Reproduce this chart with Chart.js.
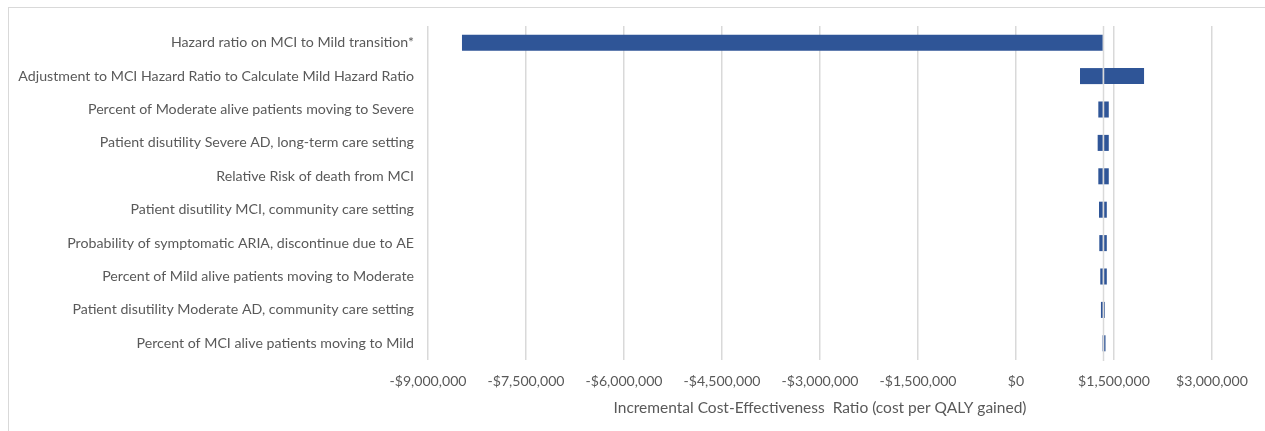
<!DOCTYPE html>
<html>
<head>
<meta charset="utf-8">
<script src="https://cdn.jsdelivr.net/npm/chart.js@4/dist/chart.umd.min.js"></script>
<style>
  html, body { margin: 0; padding: 0; background: #fff; }
  #frame {
    position: absolute; left: 8px; top: 7px; width: 1300px; height: 460px;
    border: 1px solid #d9d9d9; box-sizing: border-box;
  }
  #wrap { position: absolute; left: 0; top: 0; width: 1265px; height: 431px; }
</style>
</head>
<body>
<div id="frame"></div>
<div id="wrap"><canvas id="tornado" width="1265" height="431"></canvas></div>
<script>
// One-way sensitivity analysis: ICER range for each parameter
const parameters = [
  "Hazard ratio on MCI to Mild transition*",
  "Adjustment to MCI Hazard Ratio to Calculate Mild Hazard Ratio",
  "Percent of Moderate alive patients moving to Severe",
  "Patient disutility Severe AD, long-term care setting",
  "Relative Risk of death from MCI",
  "Patient disutility MCI, community care setting",
  "Probability of symptomatic ARIA, discontinue due to AE",
  "Percent of Mild alive patients moving to Moderate",
  "Patient disutility Moderate AD, community care setting",
  "Percent of MCI alive patients moving to Mild"
];

// Base-case ICER (cost per QALY gained)
const baseIcer = 1327000;

// ICER at the low and high ends of each parameter's range
const lowIcer  = [-8480000,  980000, 1260000, 1250000, 1260000, 1270000, 1275000, 1290000, 1300000, 1330000];
const highIcer = [ 1330000, 1960000, 1420000, 1420000, 1420000, 1390000, 1390000, 1390000, 1360000, 1370000];

// Axis ticks
const axisMin = -9000000;
const axisMax = 3000000;
const axisStep = 1500000;

const barBlue = "#2F5597";
const gridGrey = "#d9d9d9";
const textGrey = "#595959";
const fontFamily = "Lato, 'Open Sans', sans-serif";

const money = v => (v < 0 ? "-$" : "$") + Math.abs(v).toLocaleString("en-US");

// Vertical line at the base-case ICER, drawn over the bars
const baseLine = {
  id: "baseLine",
  afterDatasetsDraw(chart) {
    const { ctx, chartArea, scales } = chart;
    const x = Math.round(scales.x.getPixelForValue(baseIcer)) + 0.5;
    ctx.save();
    ctx.strokeStyle = gridGrey;
    ctx.lineWidth = 1.5;
    ctx.beginPath();
    ctx.moveTo(x, chartArea.top);
    ctx.lineTo(x, chartArea.bottom + 1);
    ctx.stroke();
    ctx.restore();
  }
};

new Chart(document.getElementById("tornado"), {
  type: "bar",
  data: {
    labels: parameters,
    datasets: [
      {
        label: "Low",
        data: lowIcer.map(v => [baseIcer, v]),
        backgroundColor: barBlue,
        borderWidth: 0
      },
      {
        label: "High",
        data: highIcer.map(v => [baseIcer, v]),
        backgroundColor: barBlue,
        borderWidth: 0
      }
    ]
  },
  options: {
    indexAxis: "y",
    responsive: false,
    animation: false,
    devicePixelRatio: 1,
    layout: { padding: { top: 26, right: 53, bottom: 0, left: 0 } },
    datasets: { bar: { grouped: false, barPercentage: 0.48, categoryPercentage: 1 } },
    plugins: { legend: { display: false }, tooltip: { enabled: false } },
    scales: {
      x: {
        type: "linear",
        min: axisMin,
        max: axisMax,
        afterBuildTicks(scale) {
          const t = [];
          for (let v = axisMin; v <= axisMax; v += axisStep) t.push({ value: v });
          scale.ticks = t;
        },
        afterFit(scale) { scale.height = 71; },
        grid: { color: gridGrey, lineWidth: 1.5, drawTicks: false },
        border: { display: false },
        ticks: {
          color: textGrey,
          font: { family: fontFamily, size: 14.1 },
          padding: 13,
          maxRotation: 0,
          callback: v => money(v)
        },
        title: {
          display: true,
          text: "Incremental Cost-Effectiveness  Ratio (cost per QALY gained)",
          color: textGrey,
          font: { family: fontFamily, size: 15.5 },
          padding: { top: 0, bottom: 14 }
        }
      },
      y: {
        afterFit(scale) { scale.width = 428; },
        grid: { display: false, drawTicks: false },
        border: { display: false },
        ticks: {
          color: textGrey,
          font: { family: fontFamily, size: 14.2 },
          padding: 14,
          autoSkip: false
        }
      }
    }
  },
  plugins: [baseLine]
});
</script>
</body>
</html>
